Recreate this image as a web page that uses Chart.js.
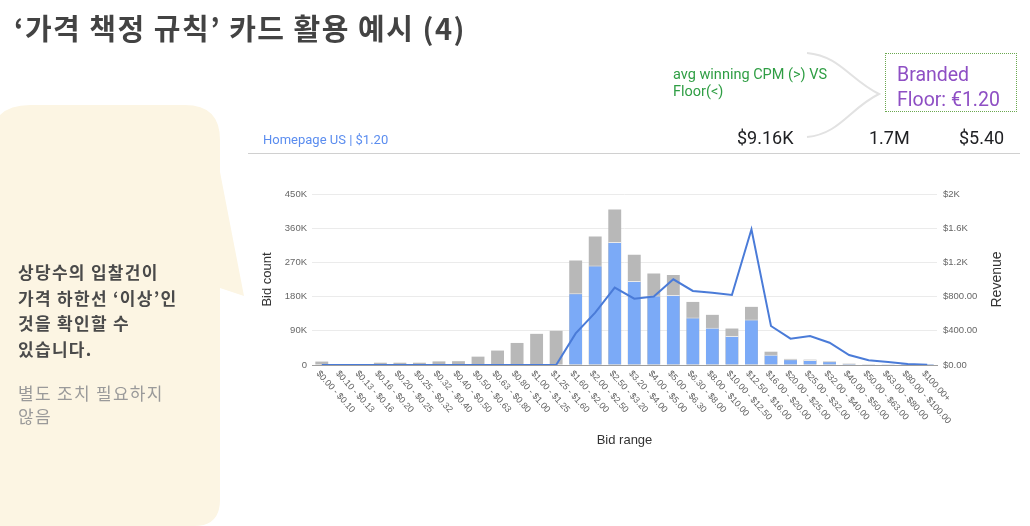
<!DOCTYPE html>
<html>
<head>
<meta charset="utf-8">
<script src="https://cdn.jsdelivr.net/npm/chart.js@4.4.1/dist/chart.umd.min.js"></script>
<style>
  html, body { margin: 0; padding: 0; background: #fff; }
  body { width: 1030px; height: 526px; position: relative; overflow: hidden; font-family: Roboto, "Noto Sans", sans-serif; }
  #chartBox { position: absolute; left: 0; top: 0; width: 1030px; height: 526px; }
  .abs { position: absolute; white-space: nowrap; }
  #title { left: 14px; top: 6px; font: bold 29px "Noto Sans CJK KR", sans-serif; color: #434343; letter-spacing: 1.5px; }
  #bubble { position: absolute; left: 0; top: 0; }
  #note { left: 18px; top: 259px; font: bold 17px/25.5px "Noto Sans CJK KR", sans-serif; color: #4a4a4a; letter-spacing: 1.3px; }
  #note2 { left: 18px; top: 381px; font: 17px/23px "Noto Sans CJK KR", sans-serif; color: #9a9a9a; letter-spacing: 1.3px; }
  #card { left: 263px; top: 132px; font-size: 13px; color: #5b8def; }
  #rule { position: absolute; left: 248px; top: 153px; width: 772px; height: 1px; background: #d0d0d0; }
  .kpi { top: 127px; font-size: 18px; color: #202124; }
  #green { left: 673px; top: 66px; font-size: 14.5px; line-height: 17px; color: #2f9e44; }
  #floorBox { left: 885px; top: 53px; width: 130px; height: 57px; border: 1px dotted #6aa84f; }
  #floorTxt { left: 897px; top: 62px; font-size: 19.5px; line-height: 25px; color: #8e4fc4; }
</style>
</head>
<body>
<div id="chartBox"><canvas id="bidChart"></canvas></div>

<svg id="bubble" width="1030" height="526">
  <path d="M -10 145 Q -10 105 30 105 L 185 105 Q 220 105 220 140 L 220 172 L 244 296 L 220 288 L 220 500 Q 220 526 194 526 L -10 526 Z" fill="#fcf5e3"/>
  <path d="M 807 53 C 840 56, 850 80, 879 94 C 850 108, 840 134, 807 137" fill="none" stroke="#e2e2e2" stroke-width="2"/>
</svg>

<div id="title" class="abs">‘가격 책정 규칙’ 카드 활용 예시 (4)</div>
<div id="note" class="abs">상당수의 입찰건이<br>가격 하한선 ‘이상’인<br>것을 확인할 수<br>있습니다.</div>
<div id="note2" class="abs">별도 조치 필요하지<br>않음</div>

<div id="card" class="abs">Homepage US | $1.20</div>
<div id="rule"></div>
<div class="abs kpi" style="left:737px">$9.16K</div>
<div class="abs kpi" style="left:869px">1.7M</div>
<div class="abs kpi" style="left:959px">$5.40</div>

<div id="green" class="abs">avg winning CPM (&gt;) VS<br>Floor(&lt;)</div>
<div id="floorBox" class="abs"></div>
<div id="floorTxt" class="abs">Branded<br>Floor: €1.20</div>

<script>
// bid ranges on the x axis
const bidRanges = [
  '$0.00 - $0.10', '$0.10 - $0.13', '$0.13 - $0.16', '$0.16 - $0.20', '$0.20 - $0.25',
  '$0.25 - $0.32', '$0.32 - $0.40', '$0.40 - $0.50', '$0.50 - $0.63', '$0.63 - $0.80',
  '$0.80 - $1.00', '$1.00 - $1.25', '$1.25 - $1.60', '$1.60 - $2.00', '$2.00 - $2.50',
  '$2.50 - $3.20', '$3.20 - $4.00', '$4.00 - $5.00', '$5.00 - $6.30', '$6.30 - $8.00',
  '$8.00 - $10.00', '$10.00 - $12.50', '$12.50 - $16.00', '$16.00 - $20.00', '$20.00 - $25.00',
  '$25.00 - $32.00', '$32.00 - $40.00', '$40.00 - $50.00', '$50.00 - $63.00', '$63.00 - $80.00',
  '$80.00 - $100.00', '$100.00+'
];

// all bids (grey bar height)
const totalBids = [
  9000, 500, 500, 6000, 6000, 6000, 9500, 10000, 22000, 38000,
  58000, 82000, 90000, 275000, 338000, 409000, 290000, 241000, 237000, 166000,
  132000, 96000, 153000, 35000, 16000, 14000, 10000, 3500, 2000, 1000,
  500, 300
];

// bids above the floor (blue bar height)
const aboveFloorBids = [
  0, 0, 0, 0, 0, 0, 0, 0, 0, 0,
  0, 0, 0, 189000, 262000, 324000, 221000, 183000, 184000, 125000,
  98000, 76000, 120000, 27000, 15000, 13000, 9600, 3500, 2000, 1000,
  500, 300
];

// revenue line, right axis
const revenue = [
  0, 0, 0, 0, 0, 0, 0, 0, 0, 0,
  0, 0, 0, 370, 612, 905, 776, 800, 1002, 866,
  846, 819, 1587, 456, 308, 339, 261, 117, 55, 35,
  12, 4
];

const countTicks = ['0', '90K', '180K', '270K', '360K', '450K'];
const revenueTicks = ['$0.00', '$400.00', '$800.00', '$1.2K', '$1.6K', '$2K'];

Chart.defaults.font.family = '"Liberation Sans", Arial, sans-serif';

// google-charts style slanted labels + right axis title read bottom-up
const extraText = {
  id: 'extraText',
  afterDraw(chart) {
    const ctx = chart.ctx;
    const x = chart.scales.x;
    const y1 = chart.scales.y1;
    ctx.save();
    ctx.font = '9px "Liberation Sans", Arial, sans-serif';
    ctx.fillStyle = '#5f5f5f';
    ctx.textAlign = 'left';
    ctx.textBaseline = 'middle';
    bidRanges.forEach((lbl, i) => {
      ctx.save();
      ctx.translate(x.getPixelForTick(i) - 4, x.top + 7);
      ctx.rotate(48 * Math.PI / 180);
      ctx.fillText(lbl, 0, 0);
      ctx.restore();
    });
    ctx.font = '14px "Liberation Sans", Arial, sans-serif';
    ctx.fillStyle = '#333';
    ctx.textAlign = 'center';
    ctx.translate(y1.right - 18, (chart.chartArea.top + chart.chartArea.bottom) / 2);
    ctx.rotate(-Math.PI / 2);
    ctx.fillText('Revenue', 0, 0);
    ctx.restore();
  }
};

new Chart(document.getElementById('bidChart'), {
  type: 'bar',
  data: {
    labels: bidRanges,
    datasets: [
      {
        type: 'line',
        label: 'Revenue',
        data: revenue,
        yAxisID: 'y1',
        borderColor: '#4a7bd8',
        borderWidth: 2,
        pointRadius: 0,
        tension: 0,
        fill: false
      },
      {
        label: 'Above floor',
        data: aboveFloorBids,
        yAxisID: 'y',
        backgroundColor: '#7baaf7',
        borderColor: 'rgba(255,255,255,0.7)',
        borderWidth: { top: 1 },
        borderSkipped: 'bottom',
        barPercentage: 0.66,
        categoryPercentage: 1
      },
      {
        label: 'All bids',
        data: totalBids,
        yAxisID: 'y',
        backgroundColor: '#b8b8b8',
        barPercentage: 0.66,
        categoryPercentage: 1
      }
    ]
  },
  options: {
    responsive: true,
    maintainAspectRatio: false,
    animation: false,
    layout: { padding: { left: 258, right: 15, top: 194, bottom: 10 } },
    plugins: {
      legend: { display: false },
      tooltip: { enabled: false }
    },
    scales: {
      x: {
        stacked: true,
        grid: { display: false },
        border: { display: true, color: '#9e9e9e' },
        ticks: { display: false },
        title: {
          display: true,
          text: 'Bid range',
          color: '#333',
          font: { size: 13 },
          padding: { top: 0, bottom: 68 }
        },
        afterFit(scale) { scale.height = 151; }
      },
      y: {
        position: 'left',
        min: 0,
        max: 450000,
        grid: {
          drawTicks: false,
          color: ctx => ctx.tick.value === 0 ? '#9e9e9e' : '#ebebeb'
        },
        border: { display: false },
        ticks: {
          stepSize: 90000,
          padding: 5,
          color: '#666',
          font: { size: 9.5 },
          callback: (v, i) => countTicks[i]
        },
        title: {
          display: true,
          text: 'Bid count',
          color: '#333',
          font: { size: 13 },
          padding: { top: 2, bottom: 0 }
        },
        afterFit(scale) { scale.width = 54; }
      },
      y1: {
        position: 'right',
        min: 0,
        max: 2000,
        grid: { display: false, drawTicks: false },
        border: { display: false },
        ticks: {
          stepSize: 400,
          padding: 6,
          color: '#666',
          font: { size: 9.5 },
          callback: (v, i) => revenueTicks[i]
        },
        afterFit(scale) { scale.width = 78; }
      }
    }
  },
  plugins: [extraText]
});
</script>
</body>
</html>
